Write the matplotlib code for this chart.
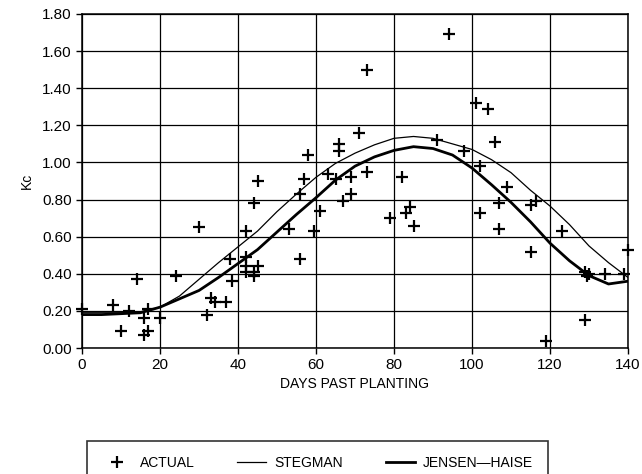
import matplotlib.pyplot as plt

plt.rcParams['font.family'] = ['Liberation Sans', 'DejaVu Sans']
plt.rcParams['font.size'] = 10

# measured points (days, Kc)
actual_days = [0, 8, 10, 12, 14, 16, 16, 17, 17, 20, 24, 30, 32, 33, 34, 37,
               38.5, 38, 42, 44, 45, 42, 42, 42, 44, 45, 44, 53, 56, 56, 57,
               58, 59.5, 61, 63, 65, 66, 66, 67, 69, 69, 71, 73, 73, 79, 82,
               83, 84, 85, 91, 94, 98, 101, 102, 102, 104, 106, 107, 107, 109,
               115, 116.5, 115, 119, 123, 129, 129.5, 130, 129, 134, 139, 140]
actual_kc = [0.21, 0.23, 0.09, 0.20, 0.37, 0.16, 0.07, 0.09, 0.21, 0.16, 0.39,
             0.65, 0.18, 0.27, 0.25, 0.25, 0.36, 0.48, 0.63, 0.78, 0.90, 0.49,
             0.44, 0.41, 0.41, 0.44, 0.39, 0.64, 0.48, 0.83, 0.91, 1.04, 0.63,
             0.74, 0.94, 0.91, 1.10, 1.06, 0.79, 0.92, 0.83, 1.16, 1.50, 0.95,
             0.70, 0.92, 0.73, 0.76, 0.66, 1.12, 1.69, 1.06, 1.32, 0.98, 0.73,
             1.29, 1.11, 0.78, 0.64, 0.87, 0.77, 0.79, 0.52, 0.04, 0.63, 0.41,
             0.39, 0.40, 0.15, 0.40, 0.40, 0.53]

curve_days = [0, 5, 10, 15, 20, 25, 30, 35, 40, 45, 50, 55, 60, 65, 70, 75,
              80, 85, 90, 95, 100, 105, 110, 115, 120, 125, 130, 135, 140]
stegman = [0.19, 0.19, 0.19, 0.195, 0.22, 0.28, 0.37, 0.46, 0.545, 0.63, 0.735,
           0.83, 0.92, 0.995, 1.05, 1.095, 1.13, 1.14, 1.13, 1.10, 1.07, 1.015,
           0.945, 0.85, 0.765, 0.665, 0.55, 0.46, 0.38]
jensen_haise = [0.18, 0.18, 0.185, 0.19, 0.22, 0.265, 0.31, 0.38, 0.455, 0.53,
                0.625, 0.72, 0.81, 0.905, 0.98, 1.03, 1.065, 1.085, 1.075, 1.04,
                0.97, 0.88, 0.785, 0.68, 0.565, 0.47, 0.39, 0.345, 0.36]

fig = plt.figure(figsize=(6.42, 4.74), dpi=100)
ax = fig.add_axes([82 / 642, 126 / 474, 546 / 642, 334 / 474])

ax.plot(actual_days, actual_kc, linestyle='none', marker='+', color='black',
        markersize=8, markeredgewidth=1.6, clip_on=False, label='ACTUAL')
ax.plot(curve_days, stegman, color='black', linewidth=0.9, label='STEGMAN')
ax.plot(curve_days, jensen_haise, color='black', linewidth=2.0,
        label='JENSEN\u2014HAISE')

ax.set_xlim(0, 140)
ax.set_ylim(0, 1.8)
ax.set_xticks(range(0, 141, 20))
ax.set_yticks([i * 0.2 for i in range(10)])
ax.set_yticklabels(['%.2f' % (i * 0.2) for i in range(10)])
ax.grid(True, color='black', linewidth=0.9)
ax.tick_params(direction='out', length=4, width=1, labelsize=11, colors='black')
for s in ax.spines.values():
    s.set_linewidth(1.1)

ax.set_xlabel('DAYS PAST PLANTING', fontsize=10, labelpad=3)
ax.set_ylabel('Kc', fontsize=10, labelpad=6)

leg = fig.legend(loc='upper left', bbox_to_anchor=(87 / 642, 1 - 441 / 474),
                 ncol=3, frameon=True, fancybox=False, edgecolor='black',
                 borderpad=1.1, borderaxespad=0, handlelength=2.1,
                 handletextpad=0.6, columnspacing=3.05, fontsize=10)
leg.get_frame().set_linewidth(1.2)

fig.savefig('out.png', dpi=100)
